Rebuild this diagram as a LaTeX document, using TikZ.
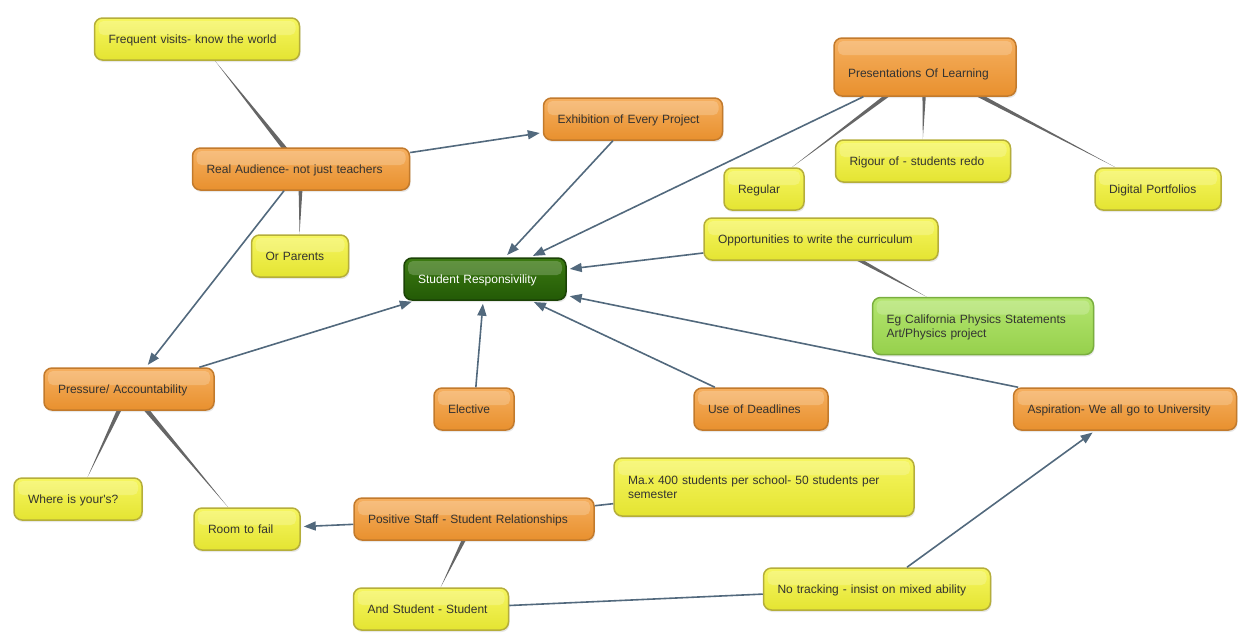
\documentclass[tikz,border=0pt]{standalone}
\usepackage{fontspec}
\setmainfont{Liberation Sans}
\usetikzlibrary{calc,arrows.meta,shadows,backgrounds}

\definecolor{orangeT}{HTML}{F6B060}
\definecolor{orangeB}{HTML}{E8902E}
\definecolor{orangeE}{HTML}{C27A2C}
\definecolor{yellowT}{HTML}{F6F660}
\definecolor{yellowB}{HTML}{E4E432}
\definecolor{yellowE}{HTML}{B5AE3A}
\definecolor{greenT}{HTML}{3C7A12}
\definecolor{greenB}{HTML}{235A06}
\definecolor{greenE}{HTML}{1B4206}
\definecolor{limeT}{HTML}{B4E670}
\definecolor{limeB}{HTML}{96D04C}
\definecolor{limeE}{HTML}{7AAE3E}
\definecolor{linkblue}{HTML}{52697D}
\definecolor{taperc}{HTML}{666666}

\newcommand\mapfont{\fontsize{12}{14}\selectfont}
\newcommand\taper[2]{\fill[taperline] ($(#1)!2.8pt!90:(#2)$) -- ($(#1)!2.8pt!-90:(#2)$) -- (#2) -- cycle;}

\tikzset{
  mapbox/.style={rounded corners=8pt, line width=1.5pt, minimum height=42pt,
    inner xsep=14pt, inner ysep=3pt, align=left, font=\mapfont, text=black!80,
    text height=12pt, text depth=3pt,
    drop shadow={opacity=0.18, shadow xshift=1pt, shadow yshift=-2pt},
    path picture={\fill[white, opacity=0.2, rounded corners=5pt]
      ([xshift=4pt, yshift=-3pt]path picture bounding box.north west) rectangle
      ([xshift=-4pt, yshift=-17pt]path picture bounding box.north east);}},
  orangebox/.style={mapbox, draw=orangeE, top color=orangeT, bottom color=orangeB},
  yellowbox/.style={mapbox, draw=yellowE, top color=yellowT, bottom color=yellowB},
  greenbox/.style={mapbox, draw=greenE, top color=greenT, bottom color=greenB, text=white},
  limebox/.style={mapbox, draw=limeE, top color=limeT, bottom color=limeB},
  tallbox/.style={minimum height=58pt, text height=24pt},
  twoline/.style={minimum height=58pt, text depth=17pt},
  link/.style={draw=linkblue, line width=1.6pt},
  arr/.style={link, -{Triangle[length=12pt,width=9pt]}, shorten >=3pt},
  taperline/.style={fill=taperc},
}

\begin{document}
\begin{tikzpicture}[x=1pt, y=-1pt]
			%%%%% START %%%%%
			\useasboundingbox (0, 0) rectangle (1247, 641);
			
			\node[yellowbox, text width=177pt] (fv) at (197, 39) {Frequent visits- know the world};
			\node[orangebox, text width=189pt] (ra) at (301, 169) {Real Audience- not just teachers};
			\node[yellowbox, text width=69pt] (op) at (300, 256) {Or Parents};
			\node[orangebox, text width=151pt] (ex) at (633, 119) {Exhibition of Every Project};
			
			\node[orangebox, tallbox, text width=154pt] (pl) at (925, 67) {Presentations Of Learning};
			\node[yellowbox, text width=52pt] (rg) at (764, 189) {Regular};
			\node[yellowbox, text width=147pt] (ri) at (923, 161) {Rigour of - students redo};
			\node[yellowbox, text width=98pt] (dp) at (1158, 189) {Digital Portfolios};
			
			\node[yellowbox, text width=206pt] (oc) at (821, 239) {Opportunities to write the curriculum};
			\node[greenbox, text width=134pt] (sr) at (485, 279) {Student Responsivility};
			\node[limebox, twoline, text width=193pt, minimum height=57pt] (eg) at (983, 326) {Eg California Physics Statements\\Art/Physics project};
			
			\node[orangebox, text width=142pt] (pa) at (129, 389) {Pressure/ Accountability};
			\node[orangebox, text width=52pt] (el) at (474, 409) {Elective};
			\node[orangebox, text width=106pt] (ud) at (761, 409) {Use of Deadlines};
			\node[orangebox, text width=195pt] (au) at (1125, 409) {Aspiration- We all go to University};
			
			\node[yellowbox, text width=100pt] (wy) at (78, 499) {Where is your\textquotesingle s?};
			\node[yellowbox, text width=78pt] (rf) at (247, 529) {Room to fail};
			\node[orangebox, text width=212pt] (ps) at (474, 519) {Positive Staff - Student Relationships};
			\node[yellowbox, twoline, text width=272pt] (mx) at (764, 487) {Ma.x 400 students per school- 50 students per\\semester};
			\node[yellowbox, text width=127pt] (ss) at (431, 609) {And Student - Student};
			\node[yellowbox, text width=199pt] (nt) at (877, 589) {No tracking - insist on mixed ability};
			
			% tapered branches
			\begin{scope}[on background layer]
			\taper{ra}{fv}
			\taper{ra}{op}
			\taper{pl}{rg}
			\taper{pl}{ri}
			\taper{pl}{dp}
			\taper{oc}{eg}
			\taper{pa}{wy}
			\taper{pa}{rf}
			\taper{ps}{ss}
			\end{scope}
			
			% links
			\draw[arr] (ra) -- (ex);
			\draw[arr] (ra) -- (pa);
			\draw[arr] (ex) -- (sr);
			\draw[arr] (pl) -- (sr);
			\draw[arr] (oc) -- (sr);
			\draw[arr] (pa) -- (sr);
			\draw[arr] (el) -- (sr);
			\draw[arr] (ud) -- (sr);
			\draw[arr] (au) -- (sr);
			\draw[arr] (ps) -- (rf);
			\draw[link] (mx) -- (ps);
			\draw[link] (ss) -- (nt);
			\draw[arr] (nt) -- (au);
			
			%%%%% END %%%%%
\end{tikzpicture}
\end{document}
